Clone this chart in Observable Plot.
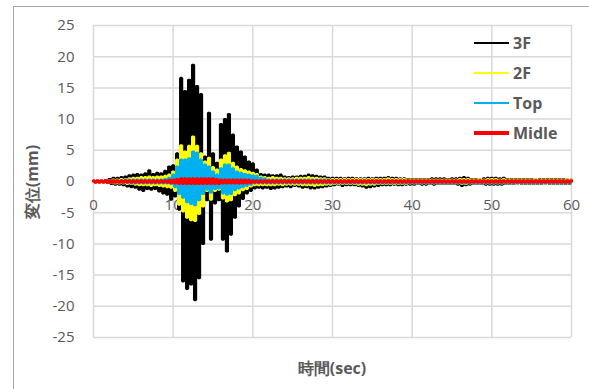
<!DOCTYPE html>
<html><head><meta charset="utf-8">
<script src="https://cdn.jsdelivr.net/npm/d3@7"></script>
<script src="https://cdn.jsdelivr.net/npm/@observablehq/plot@0.6"></script>
<style>
body{margin:0;background:#fff;}
#wrap{position:relative;width:589px;height:389px;overflow:hidden;font-family:"Open Sans",sans-serif;color:#595959;background:#fff;}
#frame{position:absolute;left:13px;top:6px;width:700px;height:500px;border-left:1.5px solid #a6a6a6;border-top:1.5px solid #a6a6a6;}
#chart{position:absolute;left:0;top:0;}
.lab{position:absolute;font-weight:bold;font-size:16px;white-space:nowrap;color:#595959;}
#ytitle{left:32px;top:182px;transform:translate(-50%,-50%) rotate(-90deg);}
#xtitle{left:332px;top:368px;transform:translate(-50%,-50%);}
.leg{position:absolute;left:474px;height:30px;}
.leg .ln{position:absolute;left:0;width:35px;top:50%;}
.leg .tx{position:absolute;left:39px;top:50%;transform:translateY(-52%);font-weight:bold;font-size:16px;color:#595959;}
</style></head>
<body>
<div id="wrap">
  <div id="frame"></div>
  <div id="chart"></div>
  <div class="lab" id="ytitle">変位(mm)</div>
  <div class="lab" id="xtitle">時間(sec)</div>
  <div id="legend"></div>
</div>
<script>
// sample interval (sec) of the values below
const sampleStep = 0.25;
const xTicks = [0, 10, 20, 30, 40, 50, 60];
const yTicks = [-25, -20, -15, -10, -5, 0, 5, 10, 15, 20, 25];
const seriesNames = ["3F", "2F", "Top", "Midle"];
const seriesColors = ["#000000", "#ffff00", "#00b0f0", "#ff0000"];

const values3F = [
 0.1,-0.1,0.1,-0.1, 0.1,-0.1,0.2,-0.2, 0.4,-0.4,0.6,-0.5, 0.6,-0.5,0.7,-0.6, 0.8,-0.8,1.0,-0.9,
 1.1,-1.0,1.2,-1.3, 1.1,-1.5,1.3,-1.2, 1.8,-1.3,1.2,-1.2, 1.4,-1.6,1.3,-1.9, 1.7,-2.1,2.4,-2.9,
 2.6,-2.4,4.5,-4.5, 16.6,-16.0,14.5,-17.2, 16.3,-16.5,18.7,-19.0, 15.3,-15.5,14.0,-10.0, 4.0,-3.0,11.0,-9.3,
 4.5,-3.5,3.0,-3.0, 9.2,-9.3,10.0,-11.2, 10.8,-8.5,7.5,-5.8, 5.6,-4.0,4.8,-2.8, 4.0,-1.9,3.2,-1.5,
 2.9,-1.1,1.9,-1.0, 1.2,-1.1,1.1,-1.0, 1.1,-1.2,1.0,-1.1, 1.0,-1.0,1.1,-0.9, 0.8,-0.8,0.7,-0.9,
 0.8,-0.7,0.8,-0.8, 0.9,-1.0,0.9,-0.9, 1.1,-1.1,1.0,-1.1, 0.9,-1.0,0.8,-0.9, 0.8,-0.8,0.6,-0.7,
 0.6,-0.6,0.6,-0.5, 0.6,-0.7,0.5,-0.6, 0.6,-0.6,0.6,-0.6, 0.5,-0.7,0.5,-0.8, 0.5,-1.0,0.6,-0.9,
 0.5,-0.8,0.6,-0.7, 0.6,-0.6,0.6,-0.6, 0.7,-0.6,0.6,-0.5, 0.6,-0.6,0.5,-0.6, 0.5,-0.5,0.4,-0.5,
 0.4,-0.5,0.4,-0.4, 0.4,-0.5,0.4,-0.5, 0.4,-0.4,0.5,-0.5, 0.5,-0.4,0.5,-0.4, 0.5,-0.4,0.4,-0.4,
 0.5,-0.4,0.5,-0.5, 0.6,-0.7,0.7,-0.6, 0.6,-0.5,0.4,-0.4, 0.4,-0.4,0.3,-0.4, 0.5,-0.5,0.6,-0.5,
 0.6,-0.5,0.6,-0.5, 0.5,-0.5,0.6,-0.4, 0.4,-0.4,0.4,-0.4, 0.4,-0.3,0.4,-0.4, 0.4,-0.4,0.4,-0.4,
 0.4,-0.4,0.3,-0.4, 0.4,-0.4,0.4,-0.3, 0.4,-0.4,0.4,-0.4, 0.4,-0.4,0.4,-0.4, 0.4,-0.4,0.3,-0.4,
 0.3
];
const values2F = [
 0.05,-0.05,0.05,-0.05, 0.05,-0.05,0.1,-0.1, 0.2,-0.2,0.3,-0.3, 0.3,-0.3,0.4,-0.3, 0.4,-0.4,0.5,-0.4,
 0.6,-0.5,0.6,-0.6, 0.7,-0.6,0.7,-0.6, 0.8,-0.7,0.7,-0.6, 0.8,-0.7,0.8,-0.8, 0.9,-0.9,1.1,-1.0,
 1.6,-1.5,3.5,-3.7, 5.8,-4.8,4.8,-5.8, 5.7,-6.2,7.2,-6.3, 5.7,-5.2,4.5,-4.0, 3.2,-1.5,3.8,-2.9,
 2.3,-1.5,1.9,-1.3, 3.5,-2.7,4.2,-3.2, 4.6,-3.0,3.0,-2.2, 2.4,-1.9,2.0,-1.4, 1.8,-1.2,1.6,-0.8,
 1.4,-0.6,1.2,-0.6, 0.8,-0.6,0.7,-0.6, 0.6,-0.6,0.7,-0.6, 0.6,-0.5,0.6,-0.6, 0.5,-0.5,0.5,-0.5,
 0.5,-0.5,0.6,-0.5, 0.6,-0.6,0.6,-0.6, 0.7,-0.6,0.6,-0.7, 0.6,-0.6,0.5,-0.6, 0.5,-0.5,0.4,-0.5,
 0.4,-0.4,0.4,-0.4, 0.4,-0.4,0.4,-0.4, 0.4,-0.4,0.4,-0.4, 0.4,-0.5,0.4,-0.5, 0.4,-0.6,0.4,-0.5,
 0.4,-0.5,0.4,-0.4, 0.4,-0.4,0.4,-0.4, 0.5,-0.4,0.4,-0.4, 0.4,-0.4,0.4,-0.4, 0.4,-0.4,0.3,-0.3,
 0.3,-0.3,0.3,-0.3, 0.3,-0.3,0.3,-0.3, 0.3,-0.3,0.3,-0.3, 0.3,-0.3,0.3,-0.3, 0.3,-0.3,0.3,-0.3,
 0.3,-0.3,0.3,-0.3, 0.4,-0.4,0.4,-0.4, 0.4,-0.3,0.3,-0.3, 0.3,-0.3,0.3,-0.3, 0.3,-0.3,0.4,-0.3,
 0.4,-0.3,0.4,-0.3, 0.3,-0.3,0.4,-0.3, 0.3,-0.3,0.3,-0.3, 0.3,-0.3,0.3,-0.3, 0.3,-0.3,0.3,-0.3,
 0.3,-0.3,0.3,-0.3, 0.3,-0.3,0.3,-0.3, 0.3,-0.3,0.3,-0.3, 0.3,-0.3,0.3,-0.3, 0.3,-0.3,0.3,-0.3,
 0.3
];
const valuesTop = [
 0.05,-0.05,0.05,-0.05, 0.05,-0.05,0.1,-0.1, 0.15,-0.15,0.15,-0.15, 0.2,-0.2,0.2,-0.2, 0.3,-0.2,0.3,-0.3,
 0.3,-0.3,0.3,-0.3, 0.3,-0.3,0.3,-0.3, 0.3,-0.3,0.3,-0.3, 0.3,-0.3,0.3,-0.3, 0.4,-0.3,0.6,-0.4,
 1.1,-0.9,2.4,-2.0, 3.5,-2.6,3.5,-3.3, 3.7,-3.6,4.8,-3.8, 4.6,-3.0,3.5,-2.0, 2.7,-1.3,2.4,-1.8,
 1.6,-1.2,1.1,-1.1, 2.1,-1.9,2.7,-2.1, 2.7,-2.0,2.1,-1.4, 1.6,-1.1,1.4,-0.9, 1.2,-0.7,1.1,-0.5,
 1.0,-0.3,0.9,-0.3, 0.6,-0.3,0.5,-0.3, 0.3,-0.3,0.3,-0.3, 0.3,-0.3,0.3,-0.3, 0.3,-0.3,0.3,-0.3,
 0.3,-0.3,0.3,-0.3, 0.3,-0.3,0.3,-0.3, 0.3,-0.3,0.3,-0.3, 0.3,-0.3,0.3,-0.3, 0.3,-0.3,0.3,-0.3,
 0.2,-0.3,0.2,-0.3, 0.2,-0.3,0.2,-0.3, 0.2,-0.3,0.2,-0.3, 0.2,-0.3,0.2,-0.3, 0.2,-0.3,0.2,-0.3,
 0.2,-0.3,0.2,-0.3, 0.2,-0.3,0.2,-0.3, 0.2,-0.3,0.2,-0.3, 0.2,-0.3,0.2,-0.3, 0.2,-0.3,0.2,-0.3,
 0.15,-0.3,0.15,-0.3, 0.15,-0.3,0.15,-0.3, 0.15,-0.3,0.15,-0.3, 0.15,-0.3,0.15,-0.3, 0.15,-0.3,0.15,-0.3,
 0.15,-0.3,0.15,-0.3, 0.15,-0.3,0.15,-0.3, 0.15,-0.3,0.15,-0.3, 0.15,-0.3,0.15,-0.3, 0.15,-0.3,0.15,-0.3,
 0.15,-0.3,0.15,-0.3, 0.15,-0.3,0.15,-0.3, 0.15,-0.3,0.15,-0.3, 0.15,-0.3,0.15,-0.3, 0.15,-0.3,0.15,-0.3,
 0.15,-0.3,0.15,-0.3, 0.15,-0.3,0.15,-0.3, 0.15,-0.3,0.15,-0.3, 0.15,-0.3,0.15,-0.3, 0.15,-0.3,0.15,-0.3,
 0.15
];
const valuesMidle = [
 0.1,-0.1,0.1,-0.1, 0.1,-0.1,0.1,-0.1, 0.1,-0.1,0.1,-0.1, 0.1,-0.1,0.1,-0.1, 0.1,-0.1,0.1,-0.1,
 0.1,-0.1,0.1,-0.1, 0.1,-0.1,0.1,-0.1, 0.1,-0.1,0.1,-0.1, 0.1,-0.1,0.1,-0.1, 0.1,-0.1,0.15,-0.15,
 0.2,-0.2,0.3,-0.3, 0.4,-0.3,0.4,-0.3, 0.4,-0.3,0.4,-0.3, 0.4,-0.3,0.4,-0.3, 0.4,-0.3,0.4,-0.3,
 0.4,-0.3,0.3,-0.3, 0.2,-0.2,0.2,-0.2, 0.2,-0.2,0.2,-0.2, 0.2,-0.2,0.2,-0.2, 0.2,-0.2,0.15,-0.15,
 0.1,-0.1,0.1,-0.1, 0.1,-0.1,0.1,-0.1, 0.1,-0.1,0.1,-0.1, 0.1,-0.1,0.1,-0.1, 0.1,-0.1,0.1,-0.1,
 0.1,-0.1,0.1,-0.1, 0.1,-0.1,0.1,-0.1, 0.1,-0.1,0.1,-0.1, 0.1,-0.1,0.1,-0.1, 0.1,-0.1,0.1,-0.1,
 0.1,-0.1,0.1,-0.1, 0.1,-0.1,0.1,-0.1, 0.1,-0.1,0.1,-0.1, 0.1,-0.1,0.1,-0.1, 0.1,-0.1,0.1,-0.1,
 0.1,-0.1,0.1,-0.1, 0.1,-0.1,0.1,-0.1, 0.1,-0.1,0.1,-0.1, 0.1,-0.1,0.1,-0.1, 0.1,-0.1,0.1,-0.1,
 0.1,-0.1,0.1,-0.1, 0.1,-0.1,0.1,-0.1, 0.1,-0.1,0.1,-0.1, 0.1,-0.1,0.1,-0.1, 0.1,-0.1,0.1,-0.1,
 0.1,-0.1,0.1,-0.1, 0.1,-0.1,0.1,-0.1, 0.1,-0.1,0.1,-0.1, 0.1,-0.1,0.1,-0.1, 0.1,-0.1,0.1,-0.1,
 0.1,-0.1,0.1,-0.1, 0.1,-0.1,0.1,-0.1, 0.1,-0.1,0.1,-0.1, 0.1,-0.1,0.1,-0.1, 0.1,-0.1,0.1,-0.1,
 0.1,-0.1,0.1,-0.1, 0.1,-0.1,0.1,-0.1, 0.1,-0.1,0.1,-0.1, 0.1,-0.1,0.1,-0.1, 0.1,-0.1,0.1,-0.1,
 0.1
];

const seriesValues = [values3F, values2F, valuesTop, valuesMidle];
const seriesWidths = [2.2, 2.2, 2.2, 3.5];
const legendWidths = [2.5, 2.5, 2.5, 4];

const rows = seriesValues.map(vals => vals.map((v, i) => ({t: i * sampleStep, v})));

const chart = Plot.plot({
  width: 589, height: 389,
  marginLeft: 93, marginRight: 18, marginTop: 25, marginBottom: 52,
  x: {domain: [0, 60], axis: null},
  y: {domain: [-25, 25]},
  style: {fontFamily: "'Open Sans', sans-serif", fontSize: "15px", color: "#595959", background: "transparent"},
  marks: [
    Plot.gridY(yTicks, {stroke: "#d9d9d9", strokeOpacity: 1, strokeWidth: 1.5}),
    Plot.gridX(xTicks, {stroke: "#d9d9d9", strokeOpacity: 1, strokeWidth: 1.5}),
    Plot.axisY(yTicks, {tickSize: 0, tickPadding: 19, tickFormat: d => String(d), fontSize: 15, label: null}),
    Plot.text(xTicks, {x: d => d, y: () => 0, dy: 24, text: d => String(d), fontSize: 15, fill: "#595959"}),
    ...rows.map((r, k) => Plot.line(r, {x: "t", y: "v", curve: "step", stroke: seriesColors[k], strokeWidth: seriesWidths[k], strokeLinejoin: "miter"}))
  ]
});
document.getElementById("chart").appendChild(chart);

const legend = document.getElementById("legend");
const legendTop = [28, 58, 88, 118];
seriesNames.forEach((name, k) => {
  const item = document.createElement("div");
  item.className = "leg";
  item.style.top = legendTop[k] + "px";
  item.innerHTML = `<div class="ln" style="border-top:${legendWidths[k]}px solid ${seriesColors[k]};margin-top:-${legendWidths[k]/2}px"></div><div class="tx">${name}</div>`;
  legend.appendChild(item);
});
</script>
</body></html>
